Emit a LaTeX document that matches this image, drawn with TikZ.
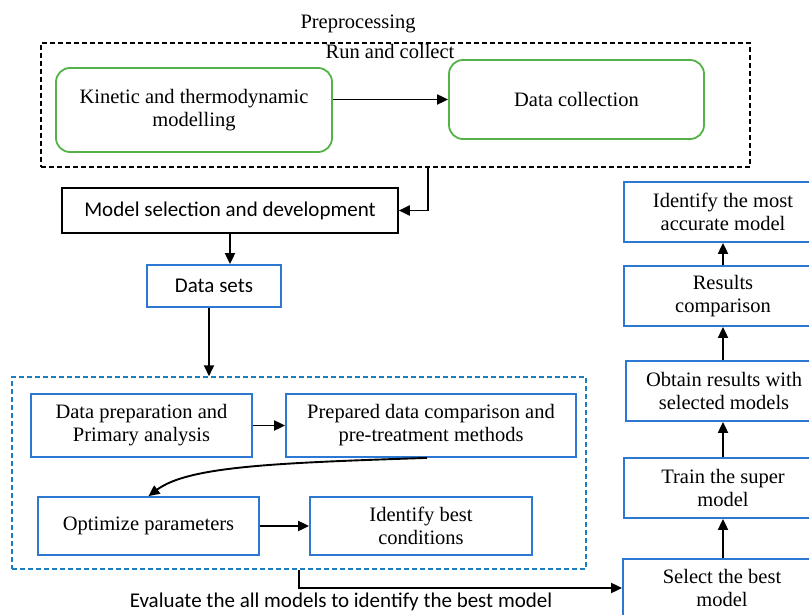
\documentclass[tikz,border=0pt]{standalone}
\usepackage{fontspec}
\setmainfont{Liberation Serif}
\newfontfamily\calibfont{Carlito}
\usetikzlibrary{arrows.meta,positioning,calc}
\definecolor{greenbox}{RGB}{84,178,72}
\definecolor{bluebox}{RGB}{45,120,210}
\definecolor{bluedash}{RGB}{30,125,190}
\tikzset{
  txt/.style={font=\fontsize{20.5}{23}\selectfont, align=center, inner sep=0pt},
  sanstxt/.style={font=\calibfont\fontsize{21}{25}\selectfont, align=center, inner sep=0pt},
  greennode/.style={txt, draw=greenbox, line width=1.8pt, rounded corners=14pt},
  bluenode/.style={txt, draw=bluebox, line width=1.8pt},
  blacknode/.style={sanstxt, draw=black, line width=1.6pt},
  arr/.style={line width=1.9pt, -{Triangle[length=11pt,width=10pt]}},
}
\begin{document}
\begin{tikzpicture}[x=1pt,y=-1pt]
  \useasboundingbox (0,0) rectangle (809,615);
  \clip (0,0) rectangle (809,615);
  % preprocessing block
  \node[draw, line width=1.5pt, dash pattern=on 5pt off 3pt,
        minimum width=709, minimum height=124] (pre) at (395.5,105) {};
  \node[txt] (pretitle) at (358,24) {Preprocessing};
  \node[txt] (runlbl) at (390,51) {Run and collect};
  \node[greennode, minimum width=276, minimum height=84] (kin) at (194,110)
    {Kinetic and thermodynamic\\modelling};
  \node[greennode, minimum width=255, minimum height=79] (coll) at (576.5,99.5)
    {Data collection};
  % model and data sets
  \node[blacknode, minimum width=336, minimum height=45] (model) at (230,210.5)
    {Model selection and development};
  \node[sanstxt, draw=bluebox, line width=1.8pt,
        minimum width=134, minimum height=42] (ds) at (214,286) {Data sets};
  % optimisation group
  \node[draw=bluedash, line width=1.5pt, dash pattern=on 5pt off 3pt,
        minimum width=574, minimum height=192] (grp) at (299,473) {};
  \node[bluenode, minimum width=221, minimum height=63] (prim) at (141.5,425.5)
    {Data preparation and\\Primary analysis};
  \node[bluenode, minimum width=290, minimum height=63] (treat) at (431,425.5)
    {Prepared data comparison and\\pre-treatment methods};
  \node[bluenode, minimum width=221, minimum height=58] (opt) at (148.5,526)
    {Optimize parameters};
  \node[bluenode, minimum width=222, minimum height=58] (cond) at (421,526)
    {Identify best\\conditions};
  \node[sanstxt] (evallbl) at (341,602)
    {Evaluate the all models to identify the best model};
  % right column
  \node[bluenode, minimum width=198, minimum height=60] (acc) at (723,212)
    {Identify the most\\accurate model};
  \node[bluenode, minimum width=198, minimum height=60] (res) at (723,296)
    {Results\\comparison};
  \node[bluenode, minimum width=196, minimum height=60] (obt) at (724,391)
    {Obtain results with\\selected models};
  \node[bluenode, minimum width=198, minimum height=60] (train) at (723,488)
    {Train the super\\model};
  \node[bluenode, minimum width=198, minimum height=58] (sel) at (722,588)
    {Select the best\\model};
  % connectors
  \draw[arr] (kin.east |- coll.west) -- (coll.west);
  \draw[arr] ([xshift=32.5pt]pre.south) |- (model.east);
  \draw[arr] (model.south) -- (model.south |- ds.north);
  \draw[arr] ([xshift=-5pt]ds.south) -- ([xshift=-5pt]ds.south |- grp.north);
  \draw[arr] (prim) -- (treat);
  \draw[arr] ([xshift=-4pt]treat.south) .. controls +(-150,5) and +(40,-30) .. (opt.north);
  \draw[arr] (opt) -- (cond);
  \draw[arr] (grp.south) |- (sel.west);
  \draw[arr] (sel.north -| train.south) -- (train.south);
  \draw[arr] (train.north) -- (train.north |- obt.south);
  \draw[arr] (obt.north -| res.south) -- (res.south);
  \draw[arr] (res.north) -- (acc.south);
\end{tikzpicture}
\end{document}
